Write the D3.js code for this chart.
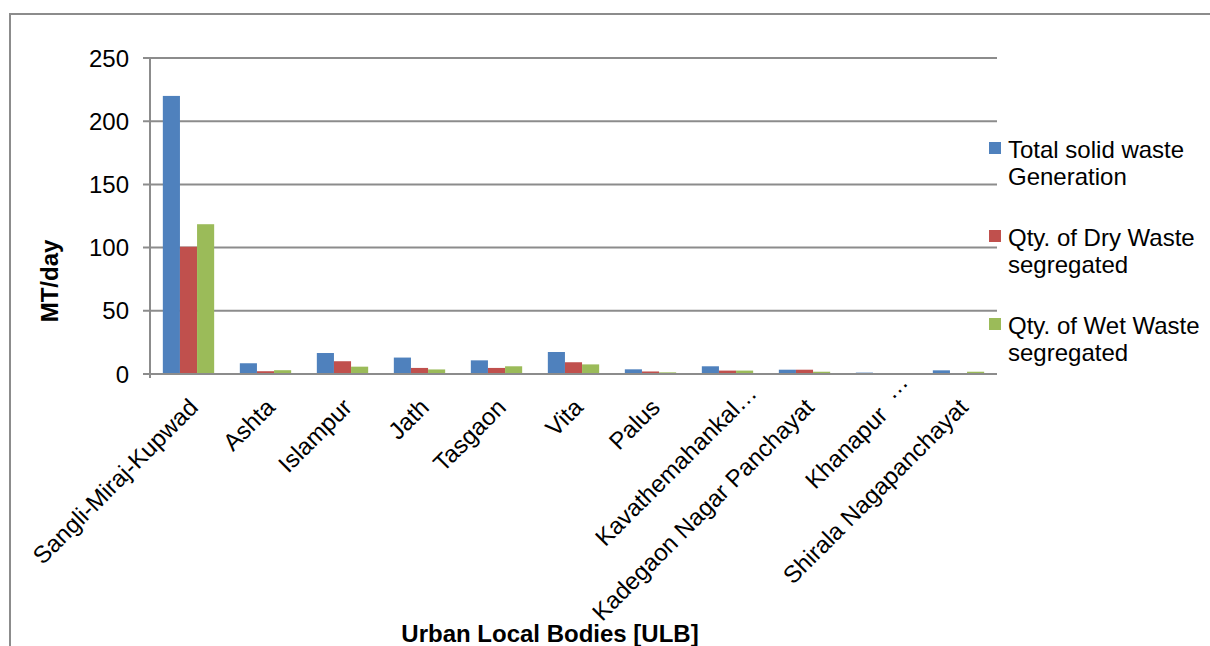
<!DOCTYPE html>
<html>
<head>
<meta charset="utf-8">
<script src="https://cdn.jsdelivr.net/npm/d3@7"></script>
<style>
  html, body { margin: 0; padding: 0; background: #fff; }
  svg { display: block; }
  text { font-family: "Liberation Sans", Arial, sans-serif; fill: #000; }
</style>
</head>
<body>
<svg id="chart" width="1210" height="646"></svg>
<script>
const categories = ["Sangli-Miraj-Kupwad", "Ashta", "Islampur", "Jath", "Tasgaon", "Vita", "Palus",
  "Kavathemahankal…", "Kadegaon Nagar Panchayat", "Khanapur …", "Shirala Nagapanchayat"];
const seriesNames = ["Total solid waste Generation", "Qty. of Dry Waste segregated", "Qty. of Wet Waste segregated"];
const legendLines = [["Total solid waste", "Generation"], ["Qty. of Dry Waste", "segregated"], ["Qty. of Wet Waste", "segregated"]];
const totalWaste = [220, 8.5, 16.6, 13, 10.8, 17.4, 3.7, 6.1, 3.4, 1.1, 2.9];
const dryWaste   = [100.7, 2.2, 10.1, 4.8, 4.8, 9.3, 2.0, 2.7, 3.4, 0.2, 0.4];
const wetWaste   = [118.5, 3.0, 5.8, 3.6, 6.1, 7.6, 1.3, 2.7, 1.8, 0.1, 1.8];
const yTicks = [0, 50, 100, 150, 200, 250];
const colors = ["#4f81bd", "#c0504d", "#9bbb59"];
const yTitle = "MT/day";
const xTitle = "Urban Local Bodies [ULB]";

const series = [totalWaste, dryWaste, wetWaste];
const svg = d3.select("#chart");

// chart frame
svg.append("path")
  .attr("d", "M10,646 V14 H1210")
  .attr("fill", "none").attr("stroke", "#8c8c8c").attr("stroke-width", 2);

const pLeft = 150, pRight = 997, pTop = 58, pBottom = 374;

const x0 = d3.scaleBand().domain(categories).range([pLeft, pRight])
  .paddingInner(1/3).paddingOuter(1/6);
const x1 = d3.scaleBand().domain([0, 1, 2]).range([0, x0.bandwidth()]);
const y = d3.scaleLinear().domain([0, 250]).range([pBottom, pTop]);

// gridlines
svg.append("g").selectAll("line").data(yTicks).join("line")
  .attr("x1", pLeft - 7).attr("x2", pRight)
  .attr("y1", d => y(d)).attr("y2", d => y(d))
  .attr("stroke", "#8c8c8c").attr("stroke-width", 2);

// y axis labels
svg.append("g").selectAll("text").data(yTicks).join("text")
  .attr("x", 129).attr("y", d => y(d))
  .attr("dy", "0.36em")
  .attr("text-anchor", "end")
  .attr("font-size", 24)
  .text(d => d);

// bars
const groups = svg.append("g").selectAll("g").data(categories).join("g")
  .attr("transform", d => `translate(${x0(d)},0)`);
groups.selectAll("rect").data((d, i) => series.map((s, k) => ({ k, v: s[i] }))).join("rect")
  .attr("x", d => x1(d.k))
  .attr("width", x1.bandwidth())
  .attr("y", d => y(d.v))
  .attr("height", d => y(0) - y(d.v))
  .attr("fill", d => colors[d.k]);

// axes lines
svg.append("line").attr("x1", pLeft).attr("x2", pLeft).attr("y1", pTop).attr("y2", pBottom + 4)
  .attr("stroke", "#8c8c8c").attr("stroke-width", 2);
svg.append("line").attr("x1", pLeft - 7).attr("x2", pRight).attr("y1", pBottom).attr("y2", pBottom)
  .attr("stroke", "#8c8c8c").attr("stroke-width", 2);

// x labels (rotated); truncated labels get their ellipsis placed as in the original
const truncStyle = {
  7: { wordX: 0, wordY: 4, dotsX: 0, dotsY: 4 },
  9: { wordX: -8, wordY: 3, dotsX: 6, dotsY: -6 }
};
const baseY = 16.8;
const lab = svg.append("g").selectAll("g").data(categories).join("g")
  .attr("transform", d => `translate(${x0(d) + x0.bandwidth() / 2 - 1},${pBottom + 23}) rotate(-45)`)
  .attr("font-size", 24);
lab.each(function (d, i) {
  const g = d3.select(this);
  const st = truncStyle[i];
  if (st && d.endsWith("…")) {
    const word = d.replace(/\s*…$/, "");
    g.append("text").attr("text-anchor", "end")
      .attr("x", st.wordX).attr("y", baseY + st.wordY).text(word);
    g.append("text").attr("text-anchor", "start")
      .attr("x", st.dotsX).attr("y", baseY + st.dotsY).text("…");
  } else {
    g.append("text").attr("text-anchor", "end")
      .attr("x", 0).attr("y", baseY).text(d);
  }
});

// titles
svg.append("text")
  .attr("transform", `translate(58,281) rotate(-90)`)
  .attr("text-anchor", "middle")
  .attr("font-size", 24).attr("font-weight", "bold")
  .text(yTitle);
svg.append("text")
  .attr("x", 550).attr("y", 642)
  .attr("text-anchor", "middle")
  .attr("font-size", 24).attr("font-weight", "bold")
  .text(xTitle);

// legend
const leg = svg.append("g").selectAll("g").data(seriesNames).join("g")
  .attr("transform", (d, i) => `translate(989,${142 + i * 88})`);
leg.append("rect").attr("width", 12).attr("height", 12).attr("fill", (d, i) => colors[i]);
leg.append("text")
  .attr("x", 19).attr("y", 16)
  .attr("font-size", 24)
  .selectAll("tspan").data((d, i) => legendLines[i]).join("tspan")
  .attr("x", 19).attr("dy", (d, j) => j === 0 ? 0 : 26.5)
  .text(d => d);
</script>
</body>
</html>
